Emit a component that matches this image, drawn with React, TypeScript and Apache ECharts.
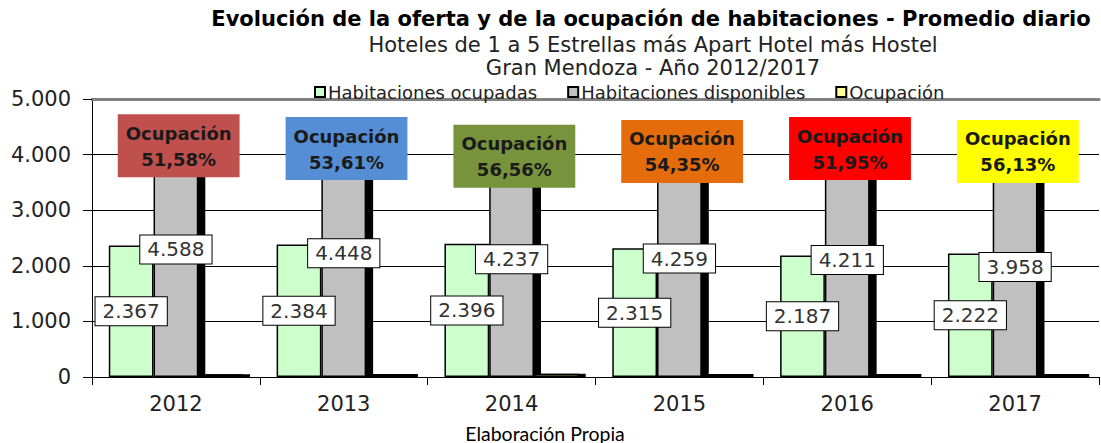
import React, { useEffect, useRef } from "react";
import * as echarts from "echarts";

const years = ["2012", "2013", "2014", "2015", "2016", "2017"];
const ocupadas = [2367, 2384, 2396, 2315, 2187, 2222];
const disponibles = [4588, 4448, 4237, 4259, 4211, 3958];
const ocupacion = [51.58, 53.61, 56.56, 54.35, 51.95, 56.13];
const seriesNames = ["Habitaciones ocupadas", "Habitaciones disponibles", "Ocupación"];

// styling (not data)
const boxColors = ["#C0504D", "#558ED5", "#77933C", "#E46C0A", "#FF0000", "#FFFF00"];
const boxShiftY = [0, 3, 11, 6, 3, 6];

const thousands = (n: number) => String(n).replace(/\B(?=(\d{3})+(?!\d))/g, ".");
const pct = (v: number) => v.toFixed(2).replace(".", ",") + "%";

const FONT = "'DejaVu Sans', Verdana, sans-serif";

export default function App() {
  const ref = useRef<HTMLDivElement>(null);
  useEffect(() => {
    document.body.style.margin = "0";
    const chart = echarts.init(ref.current!, null, { renderer: "svg" });
    const valueLabel = {
      show: true,
      position: "inside" as const,
      formatter: (p: any) => thousands(p.value),
      fontFamily: FONT,
      fontSize: 20,
      color: "#333",
      backgroundColor: "#fff",
      borderColor: "#000",
      borderWidth: 1,
      padding: [3, 7, 3, 7],
      lineHeight: 22,
    };
    chart.setOption({
      animation: false,
      textStyle: { fontFamily: FONT },
      graphic: [
        {
          type: "text", x: 651, y: 19,
          style: { text: "Evolución de la oferta y de la ocupación de habitaciones - Promedio diario", textAlign: "center", textVerticalAlign: "middle", font: `bold 21px ${FONT}`, fill: "#000" },
        },
        {
          type: "text", x: 653, y: 45,
          style: { text: "Hoteles de 1 a 5 Estrellas más Apart Hotel más Hostel", textAlign: "center", textVerticalAlign: "middle", font: `21px ${FONT}`, fill: "#222" },
        },
        {
          type: "text", x: 653, y: 68,
          style: { text: "Gran Mendoza - Año 2012/2017", textAlign: "center", textVerticalAlign: "middle", font: `21px ${FONT}`, fill: "#222" },
        },
        {
          type: "text", x: 545, y: 433,
          style: { text: "Elaboración Propia", textAlign: "center", textVerticalAlign: "middle", font: `19.5px Lato, 'Open Sans', sans-serif`, fill: "#000" },
        },
      ],
      legend: {
        data: seriesNames,
        left: 309,
        top: 78,
        itemWidth: 10,
        itemHeight: 10,
        itemGap: 30,
        icon: "rect",
        textStyle: { fontFamily: FONT, fontSize: 18, color: "#222", padding: [0, 0, 0, -2] },
      },
      grid: { left: 92, right: 2, top: 99, bottom: 66, containLabel: false },
      xAxis: [
        {
          type: "category",
          data: years,
          axisLine: { lineStyle: { color: "#000", width: 1 } },
          axisTick: { show: true, length: 8, lineStyle: { color: "#000" } },
          axisLabel: { fontFamily: FONT, fontSize: 21, color: "#222", margin: 16 },
        },
        {
          type: "category",
          data: years,
          position: "top",
          axisLine: { show: true, lineStyle: { color: "#808080", width: 3 } },
          axisTick: { show: false },
          axisLabel: { show: false },
        },
      ],
      yAxis: {
        type: "value",
        min: 0,
        max: 5000,
        interval: 1000,
        axisLine: { show: true, lineStyle: { color: "#000", width: 1 } },
        axisTick: { show: true, length: 9, lineStyle: { color: "#000" } },
        axisLabel: { fontFamily: FONT, fontSize: 21, color: "#222", margin: 21, formatter: (v: number) => thousands(v) },
        splitLine: { show: true, lineStyle: { color: "#000", width: 1 } },
      },
      series: [
        {
          name: seriesNames[0],
          type: "bar",
          data: ocupadas,
          barGap: "0%",
          barCategoryGap: "20%",
          itemStyle: { color: "#CCFFCC", borderColor: "#000", borderWidth: 1.5 },
          label: valueLabel,
        },
        {
          name: seriesNames[1],
          type: "bar",
          data: disponibles,
          itemStyle: { color: "#C0C0C0", borderColor: "#000", borderWidth: 1.5, shadowColor: "#000", shadowOffsetX: 7, shadowOffsetY: 0, shadowBlur: 0 },
          label: valueLabel,
        },
        {
          name: seriesNames[2],
          type: "bar",
          z: 3,
          data: ocupacion.map((v, i) => ({
            value: v,
            label: { backgroundColor: boxColors[i], offset: [-42, boxShiftY[i]] },
          })),
          itemStyle: { color: "#FFFF99", borderColor: "#000", borderWidth: 1.5, shadowColor: "#000", shadowOffsetX: 7, shadowOffsetY: 0, shadowBlur: 0 },
          label: {
            show: true,
            position: "top",
            distance: 197,
            formatter: (p: any) => "Ocupación\n" + pct(p.value),
            fontFamily: FONT,
            fontWeight: "bold",
            fontSize: 18,
            lineHeight: 26,
            color: "#1a1a1a",
            padding: [6, 8, 5, 8],
            align: "center",
          },
        },
      ],
    });
    return () => chart.dispose();
  }, []);
  return <div ref={ref} style={{ width: 1101, height: 443 }} />;
}
